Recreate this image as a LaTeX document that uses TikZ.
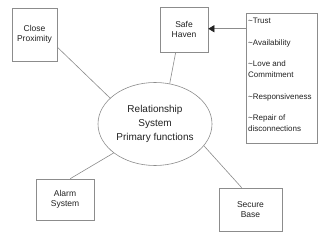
\documentclass[tikz,border=0pt]{standalone}
\usepackage{fontspec}
\setmainfont{Liberation Sans}
\usetikzlibrary{arrows.meta,shapes.geometric}
\definecolor{edge}{HTML}{8C8C8C}
\definecolor{ink}{HTML}{222222}
\tikzset{
  boxnode/.style={draw=edge, line width=0.6pt, rectangle, inner sep=0pt, align=center,
    font=\fontsize{8.5}{10.5}\selectfont, text=ink},
  listtext/.style={anchor=west, inner sep=0pt, align=left,
    font=\fontsize{8}{11}\selectfont, text=ink},
  link/.style={draw=edge, line width=0.6pt}
}
\begin{document}
\begin{tikzpicture}[x=1pt,y=-1pt]
\useasboundingbox[fill=white] (0,0) rectangle (320,245);
\node[boxnode, minimum width=45pt, minimum height=53pt] (cp) at (34.5,34.5) {Close\\Proximity};
\node[boxnode, minimum width=48pt, minimum height=45pt] (sh) at (184,29.5) {Safe\\Haven};
\node[boxnode, minimum width=71pt, minimum height=130pt] (list) at (281.5,78) {};
\node[draw=edge, line width=0.6pt, ellipse, minimum width=114pt, minimum height=83pt, inner sep=0pt,
  align=center, font=\fontsize{10}{14}\selectfont, text=ink] (ell) at (155,124) {Relationship\\System\\Primary functions};
\node[boxnode, minimum width=58pt, minimum height=41pt] (al) at (65,199.5) {Alarm\\System};
\node[boxnode, minimum width=63pt, minimum height=43pt] (sb) at (250.5,209.5) {Secure\\Base};
\node[listtext] (l1) at (248,21) {\textasciitilde Trust};
\node[listtext] (l2) at (248,43) {\textasciitilde Availability};
\node[listtext] (l3) at (248,69) {\textasciitilde Love and\\Commitment};
\node[listtext] (l4) at (248,97) {\textasciitilde Responsiveness};
\node[listtext] (l5) at (248,123) {\textasciitilde Repair of\\disconnections};
\draw[link] (cp.-29) -- (ell.150);
\draw[link] (sh.-110) -- (ell.70);
\draw[link] (ell.-145) -- (al.76);
\draw[link] (ell.-24) -- (sb.112);
\draw[link, -{Triangle[length=6pt,width=7pt,color=ink,fill=ink]}] (list.126.5) -- (list.126.5 -| sh.east);
\end{tikzpicture}
\end{document}
